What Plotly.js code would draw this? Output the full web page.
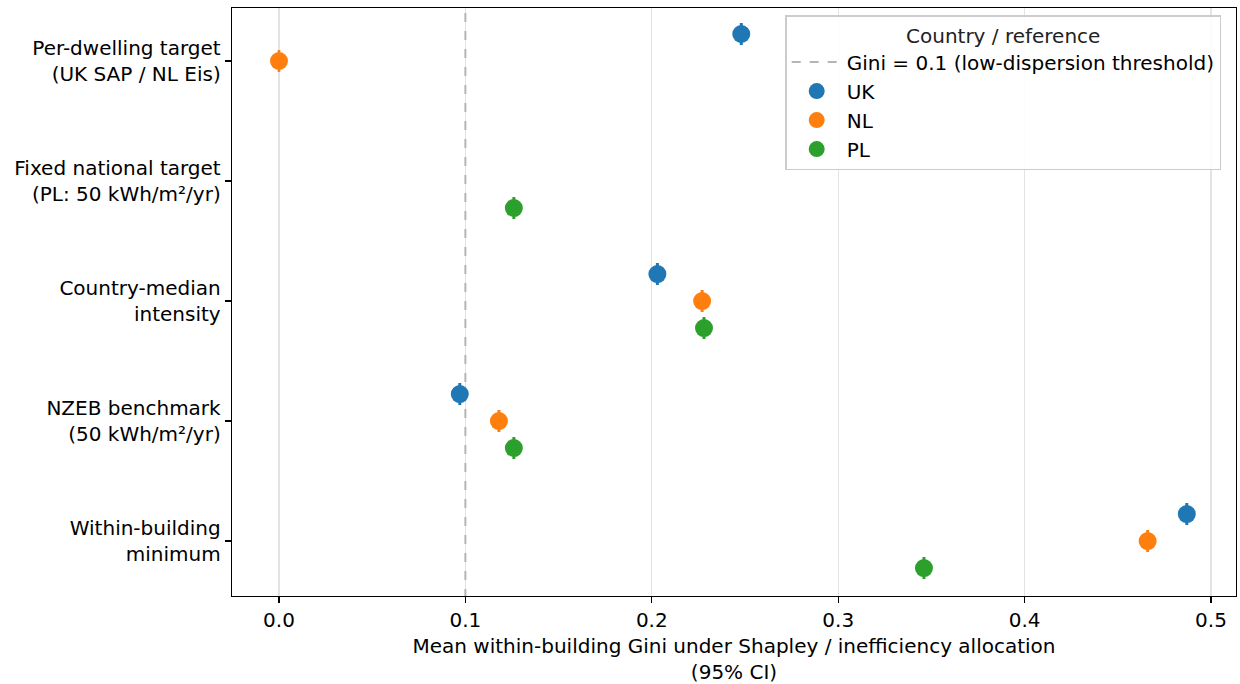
<!DOCTYPE html>
<html><head><meta charset="utf-8">
<script src="https://cdn.plot.ly/plotly-3.0.1.min.js"></script>
<style>html,body{margin:0;padding:0;background:#fff}#c{width:1240px;height:684px}</style>
</head><body><div id="c"></div>
<script>
const categories = ["Per-dwelling target<br>(UK SAP / NL Eis)", "Fixed national target<br>(PL: 50 kWh/m²/yr)", "Country-median<br>intensity", "NZEB benchmark<br>(50 kWh/m²/yr)", "Within-building<br>minimum"];
const countries = ["UK", "NL", "PL"];
const ukGini = [0.248, null, 0.203, 0.097, 0.487];
const nlGini = [0.000, null, 0.227, 0.118, 0.466];
const plGini = [null, 0.126, 0.228, 0.126, 0.346];
const ukCI = [0.0004, null, 0.0004, 0.0004, 0.0004];
const nlCI = [0.0003, null, 0.0004, 0.0004, 0.0004];
const plCI = [null, 0.0004, 0.0004, 0.0004, 0.0004];
const threshold = 0.1;
const xTicks = [0.0, 0.1, 0.2, 0.3, 0.4, 0.5];
const xTickText = ["0.0", "0.1", "0.2", "0.3", "0.4", "0.5"];

const colors = ["#1f77b4", "#ff7f0e", "#2ca02c"];
const offsets = [-0.225, 0, 0.225];
const vals = [ukGini, nlGini, plGini];
const cis = [ukCI, nlCI, plCI];

const traces = [{
  x: [threshold, threshold], y: [-1, 6], mode: "lines", name: "Gini = 0.1 (low-dispersion threshold)",
  line: {color: "#b5b5b5", width: 2, dash: "dash"}, hoverinfo: "skip"
}];
countries.forEach((c, i) => {
  const xs = [], ys = [], es = [];
  vals[i].forEach((v, j) => { if (v !== null) { xs.push(v); ys.push(j + offsets[i]); es.push(cis[i][j]); } });
  traces.push({
    x: xs, y: ys, mode: "markers", name: c, type: "scatter",
    marker: {color: colors[i], size: 18},
    error_x: {type: "data", array: es, visible: true, color: colors[i], thickness: 1.5, width: 11}
  });
});

const layout = {
  width: 1240, height: 684,
  margin: {l: 232, r: 4, t: 8, b: 88},
  paper_bgcolor: "#fff", plot_bgcolor: "#fff",
  font: {family: "DejaVu Sans", size: 20, color: "#000"},
  showlegend: true,
  legend: {
    x: 0.551, y: 0.988, xanchor: "left", yanchor: "top",
    bgcolor: "rgba(255,255,255,0.85)", bordercolor: "#cccccc", borderwidth: 1.5,
    font: {family: "DejaVu Sans", size: 20, color: "#000"},
    title: {text: "Country / reference", side: "top center", font: {size: 20, color: "#222"}},
    tracegroupgap: 0, itemwidth: 50
  },
  xaxis: {
    range: [-0.0252, 0.5134], tickvals: xTicks, ticktext: xTickText,
    showgrid: true, gridcolor: "#e3e3e3", gridwidth: 1.2, zeroline: false,
    showline: true, linecolor: "#000", linewidth: 1.3, mirror: true,
    ticks: "outside", ticklen: 6, tickwidth: 1.3, tickcolor: "#000",
    tickfont: {size: 20},
    title: {text: "Mean within-building Gini under Shapley / inefficiency allocation<br>(95% CI)", font: {size: 20}, standoff: 8}
  },
  yaxis: {
    range: [4.458, -0.4417], tickvals: [0, 1, 2, 3, 4], ticktext: categories,
    showgrid: false, zeroline: false,
    showline: true, linecolor: "#000", linewidth: 1.3, mirror: true,
    ticks: "outside", ticklen: 6, tickwidth: 1.3, tickcolor: "#000",
    tickfont: {size: 20}
  }
};
Plotly.newPlot("c", traces, layout, {staticPlot: true, displayModeBar: false});
</script></body></html>
